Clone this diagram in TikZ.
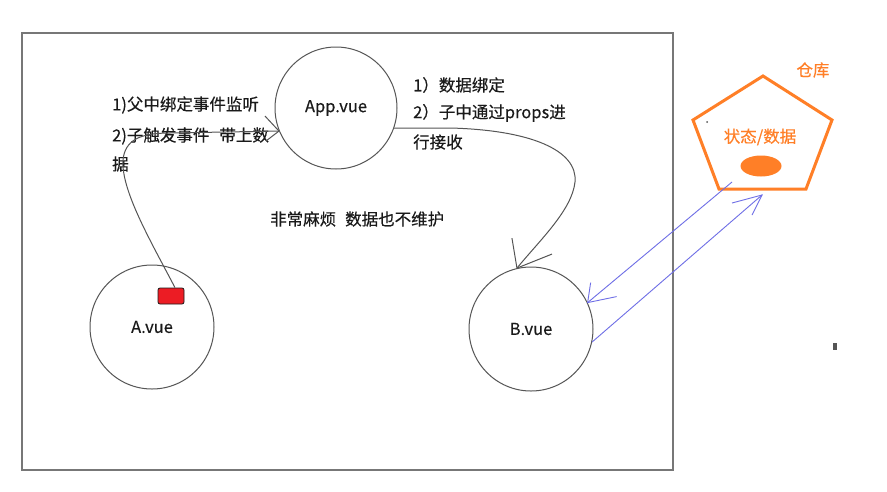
\documentclass[tikz,border=0pt]{standalone}
\usepackage{fontspec}
\setmainfont{Noto Sans CJK SC}[FakeBold=0.35]
\usetikzlibrary{calc}
\definecolor{ink}{HTML}{1A1A1A}
\definecolor{frame}{HTML}{777777}
\definecolor{ring}{HTML}{555555}
\definecolor{paintorange}{HTML}{FF7F27}
\definecolor{paintblue}{HTML}{6E6EE6}
\definecolor{boxred}{HTML}{EC1C24}
\begin{document}
\begin{tikzpicture}[x=1pt,y=-1pt,
  txt/.style={font=\fontsize{16.5}{18}\selectfont, text=ink, inner sep=0pt, anchor=west},
  comp/.style={circle, draw=ring, line width=1pt, minimum size=124pt, inner sep=0pt,
    font=\fontsize{16.5}{18}\selectfont, text=ink},
  conn/.style={draw=ring, line width=1pt},
  link/.style={draw=paintblue, line width=0.9pt},
  store/.style={draw=paintorange, line width=3pt, line join=miter},
  otxt/.style={font=\fontsize{16.5}{18}\selectfont, text=paintorange, inner sep=0pt}]
\useasboundingbox (0,0) rectangle (887,491);
\fill[white] (0,0) rectangle (887,491);
\draw[frame, line width=2pt] (22,33) rectangle (673,470);

% components
\node[comp, minimum size=122pt] (app) at (336,108) {App.vue};
\node[comp] (a) at (152,327) {A.vue};
\node[comp] (b) at (531,329) {B.vue};
\node[draw=ink, fill=boxred, rounded corners=2pt, minimum width=26pt, minimum height=16pt,
  inner sep=0pt, line width=0.8pt] (flag) at (171,296) {};

% texts
\node[txt] (t1) at (112,105) {1)父中绑定事件监听};
\node[txt] (t2) at (112,136) {2)子触发事件\hspace{10pt}带上数};
\node[txt] (t3) at (112,164) {据};
\node[txt] (r1) at (413,85) {1）数据绑定};
\node[txt] (r2) at (413,113) {2）子中通过props进};
\node[txt] (r3) at (413,142) {行接收};
\node[txt] (mid) at (270,219) {非常麻烦\hspace{9pt}数据也不维护};

% A -> App
\draw[conn] ($(flag.north)+(4,0)$) .. controls (150,240) and (121,190) .. (123,160)
  .. controls (125,140) and (140,133) .. (170,133) -- (app.202);
\draw[conn] ($(app.202)+(-14,-15)$) -- (app.202) -- ($(app.202)+(-13,10)$);

% App -> B
\draw[conn] (app.-19) -- (450,128) .. controls (530,130) and (578,150) .. (575,182)
  .. controls (572,210) and (540,240) .. (b.103);
\draw[conn] ($(b.103)+(-5,-30)$) -- (b.103) -- ($(b.103)+(35,-14)$);

% store
\coordinate (ptop) at (763,76);
\coordinate (pright) at (832,120);
\coordinate (pbr) at (806,189);
\coordinate (pbl) at (719,189);
\coordinate (pleft) at (693,120);
\draw[store] (ptop) -- (pright) -- (pbr) -- (pbl) -- (pleft) -- cycle;
\node[otxt] (storename) at (813,70) {仓库};
\node[otxt] (state) at (760,137) {状态/数据};
\fill[paintorange] (761,166) ellipse [x radius=20.5, y radius=10.5];
\fill[ring] (707,122) circle (1);
\fill[ring] (833,343) rectangle (837,350);

% store <-> B
\coordinate (sendout) at (732,182);
\coordinate (recvin) at (762,195);
\draw[link] (sendout) -- (b.25);
\draw[link] ($(b.25)+(3,-20)$) -- (b.25) -- ($(b.25)+(29,-6)$);
\draw[link] (b.-12) -- (recvin);
\draw[link] ($(recvin)+(-30,8)$) -- (recvin) -- ($(recvin)+(-10,20)$);
\end{tikzpicture}
\end{document}
